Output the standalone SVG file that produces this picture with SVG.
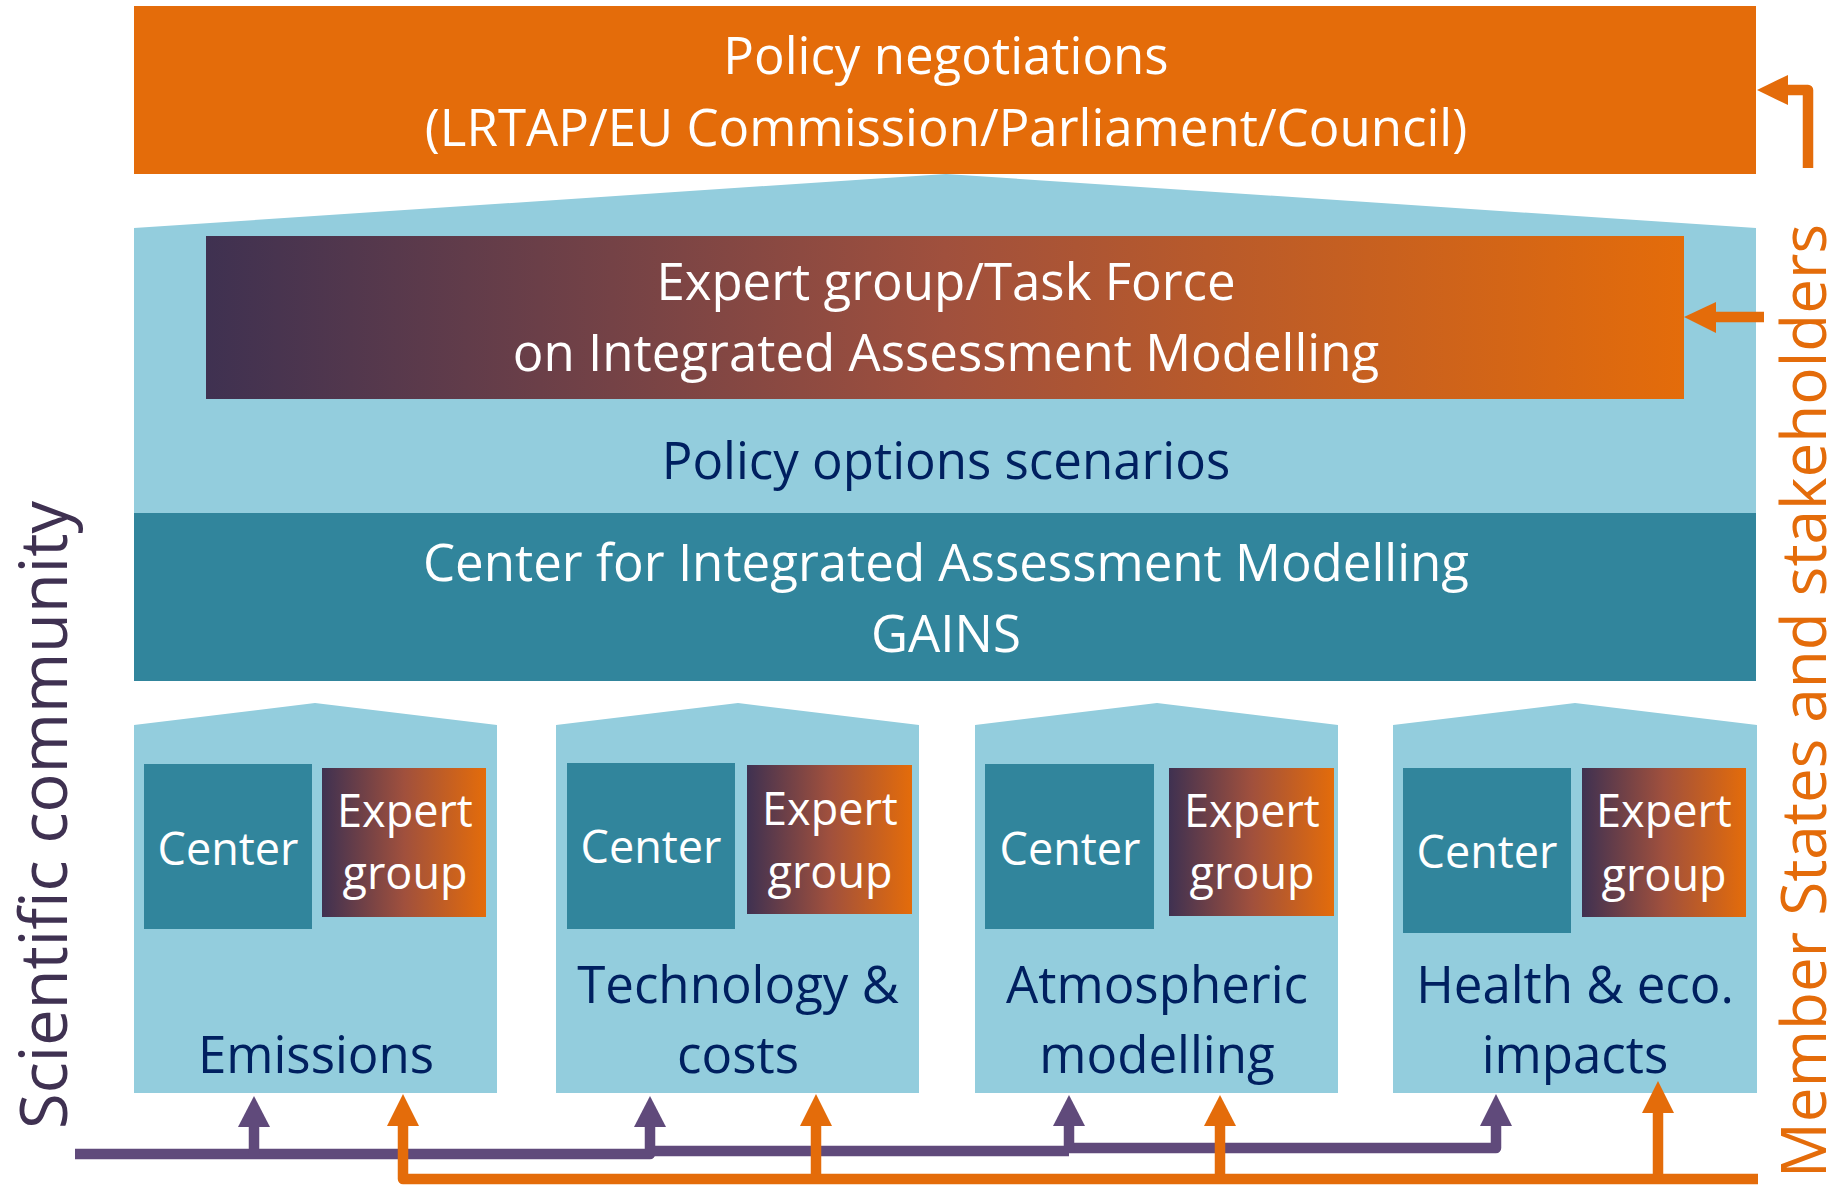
<svg xmlns="http://www.w3.org/2000/svg" width="1844" height="1196" viewBox="0 0 1844 1196">
<defs>
<linearGradient id="grad" x1="0" y1="0" x2="1" y2="0">
<stop offset="0" stop-color="#3F3151"/>
<stop offset="0.5" stop-color="#A0503D"/>
<stop offset="1" stop-color="#E46C0A"/>
</linearGradient>
<style>
text{font-family:"Open Sans","Liberation Sans",sans-serif;text-anchor:middle}
.big{font-size:51px}
.sm{font-size:45px;fill:#FFFFFF}
.w{fill:#FFFFFF}
.navy{fill:#002060}
.lb{fill:#93CDDD}
.teal{fill:#31859C}
.or{fill:#E46C0A}
.pu{fill:#604A7B}
.lp{fill:none;stroke:#604A7B;stroke-width:10.5;stroke-linejoin:round}
.lo{fill:none;stroke:#E46C0A;stroke-width:10.5;stroke-linejoin:round}
</style>
</defs>
<rect width="1844" height="1196" fill="#FFFFFF"/>

<g id="policy-negotiations">
<rect x="134" y="6" width="1622" height="168" class="or"/>
<text x="946" y="74" class="big w">Policy negotiations</text>
<text x="946" y="146" class="big w">(LRTAP/EU Commission/Parliament/Council)</text>
</g>

<g id="policy-options">
<polygon points="134,228 946,174 1756,228 1756,513 134,513" class="lb"/>
<text x="946" y="479" class="big navy">Policy options scenarios</text>
</g>

<g id="task-force">
<rect x="206" y="236" width="1478" height="163" fill="url(#grad)"/>
<text x="946" y="300" class="big w">Expert group/Task Force</text>
<text x="946" y="371" class="big w">on Integrated Assessment Modelling</text>
</g>

<g id="ciam">
<rect x="134" y="513" width="1622" height="168" class="teal"/>
<text x="946" y="581" class="big w">Center for Integrated Assessment Modelling</text>
<text x="946" y="652" class="big w">GAINS</text>
</g>

<g id="emissions">
<polygon points="134,725 315,703 497,725 497,1093 134,1093" class="lb"/>
<rect x="144" y="764" width="168" height="165" class="teal"/>
<text x="228" y="865" class="sm">Center</text>
<rect x="322" y="768" width="164" height="149" fill="url(#grad)"/>
<text x="405" y="827" class="sm">Expert</text>
<text x="405" y="889" class="sm">group</text>
<text x="316" y="1073" class="big navy">Emissions</text>
</g>

<g id="technology">
<polygon points="556,725 738,703 919,725 919,1093 556,1093" class="lb"/>
<rect x="567" y="763" width="168" height="166" class="teal"/>
<text x="651" y="863" class="sm">Center</text>
<rect x="747" y="765" width="165" height="149" fill="url(#grad)"/>
<text x="830" y="825" class="sm">Expert</text>
<text x="830" y="888" class="sm">group</text>
<text x="738" y="1003" class="big navy">Technology &amp;</text>
<text x="738" y="1073" class="big navy">costs</text>
</g>

<g id="atmospheric">
<polygon points="975,725 1157,703 1338,725 1338,1093 975,1093" class="lb"/>
<rect x="985" y="764" width="169" height="165" class="teal"/>
<text x="1070" y="865" class="sm">Center</text>
<rect x="1169" y="768" width="165" height="148" fill="url(#grad)"/>
<text x="1252" y="827" class="sm">Expert</text>
<text x="1252" y="889" class="sm">group</text>
<text x="1157" y="1003" class="big navy">Atmospheric</text>
<text x="1157" y="1073" class="big navy">modelling</text>
</g>

<g id="health">
<polygon points="1393,725 1575,703 1757,725 1757,1093 1393,1093" class="lb"/>
<rect x="1403" y="768" width="168" height="165" class="teal"/>
<text x="1487" y="868" class="sm">Center</text>
<rect x="1582" y="768" width="164" height="149" fill="url(#grad)"/>
<text x="1664" y="827" class="sm">Expert</text>
<text x="1664" y="891" class="sm">group</text>
<text x="1575" y="1003" class="big navy">Health &amp; eco.</text>
<text x="1575" y="1073" class="big navy">impacts</text>
</g>

<g id="scientific-community">
<text transform="translate(67,815) rotate(-90)" style="font-size:65px;fill:#3F3151">Scientific community</text>
</g>

<g id="member-states">
<text transform="translate(1826,701) rotate(-90)" style="font-size:62px;fill:#E46C0A">Member States and stakeholders</text>
</g>

<g id="connectors">
<polyline points="1808,168 1808,90 1786,90" class="lo"/>
<polygon points="1757,90 1788,75 1788,105" class="or"/>
<line x1="1764" y1="317" x2="1714" y2="317" class="lo"/>
<polygon points="1684,317 1716,302 1716,333" class="or"/>

<polyline points="75,1154 650,1154 650,1125" class="lp"/>
<polyline points="650,1151 1069,1151" class="lp"/>
<polyline points="1069,1148 1496,1148 1496,1124" class="lp"/>
<line x1="254" y1="1154" x2="254" y2="1125" class="lp"/>
<line x1="1069" y1="1151" x2="1069" y2="1124" class="lp"/>
<polygon points="254,1096 238,1127 270,1127" class="pu"/>
<polygon points="650,1096 634,1127 666,1127" class="pu"/>
<polygon points="1069,1095 1053,1126 1085,1126" class="pu"/>
<polygon points="1496,1094 1480,1126 1512,1126" class="pu"/>

<polyline points="403,1124 403,1179 1758,1179" class="lo"/>
<line x1="816" y1="1179" x2="816" y2="1124" class="lo"/>
<line x1="1220" y1="1179" x2="1220" y2="1123" class="lo"/>
<line x1="1658" y1="1179" x2="1658" y2="1110" class="lo"/>
<polygon points="403,1094 387,1126 419,1126" class="or"/>
<polygon points="816,1094 800,1126 832,1126" class="or"/>
<polygon points="1220,1095 1204,1126 1236,1126" class="or"/>
<polygon points="1658,1081 1642,1113 1674,1113" class="or"/>
</g>
</svg>
